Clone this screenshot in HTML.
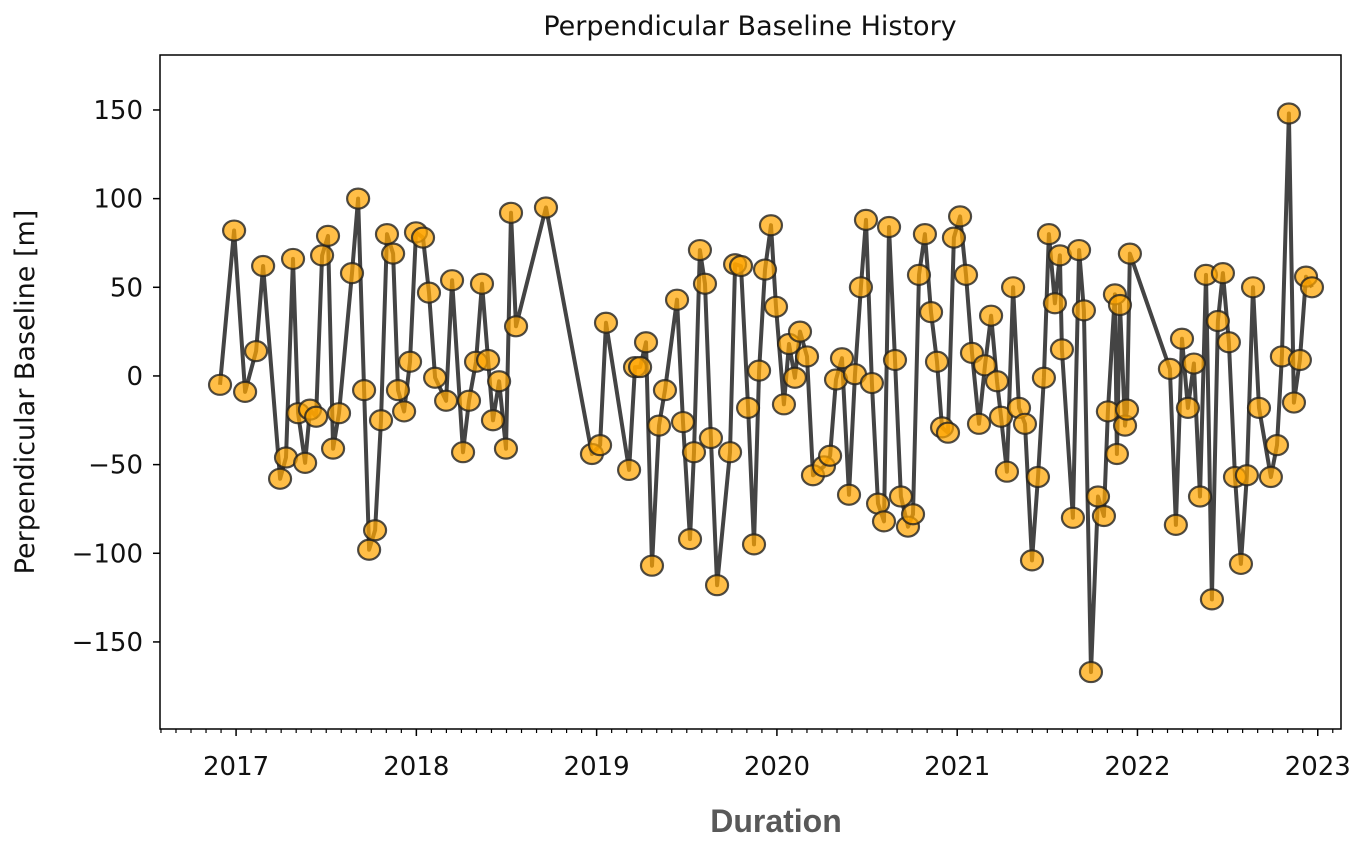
<!DOCTYPE html>
<html><head><meta charset="utf-8"><style>
html,body{margin:0;padding:0;background:#fff;}
svg{display:block;}
text{font-family:"DejaVu Sans","Liberation Sans",sans-serif;fill:#111;}
</style></head><body>
<svg id="chart" width="1358" height="842" viewBox="0 0 1358 842" xmlns="http://www.w3.org/2000/svg">
<text x="750" y="35" text-anchor="middle" font-size="27">Perpendicular Baseline History</text>
<g id="plot"></g>
<text transform="translate(34,392) rotate(-90)" text-anchor="middle" font-size="27">Perpendicular Baseline [m]</text>
<text x="776" y="832" text-anchor="middle" font-size="32" font-weight="bold" style="font-family:'Liberation Sans',sans-serif;fill:#595959">Duration</text>
</svg>
<script>
const dates=[2016.911,2016.989,2017.050,2017.111,2017.150,2017.244,2017.277,2017.316,2017.344,2017.383,2017.410,2017.444,2017.477,2017.510,2017.538,2017.571,2017.643,2017.677,2017.710,2017.738,2017.771,2017.804,2017.837,2017.871,2017.898,2017.932,2017.965,2017.998,2018.037,2018.070,2018.104,2018.165,2018.198,2018.259,2018.292,2018.331,2018.364,2018.398,2018.425,2018.459,2018.497,2018.525,2018.553,2018.719,2018.974,2019.019,2019.052,2019.180,2019.213,2019.241,2019.274,2019.307,2019.346,2019.379,2019.446,2019.479,2019.518,2019.540,2019.573,2019.601,2019.634,2019.668,2019.740,2019.768,2019.801,2019.840,2019.873,2019.901,2019.934,2019.967,2019.995,2020.039,2020.067,2020.100,2020.128,2020.167,2020.200,2020.261,2020.295,2020.328,2020.361,2020.400,2020.433,2020.466,2020.494,2020.527,2020.561,2020.594,2020.622,2020.655,2020.688,2020.727,2020.755,2020.788,2020.821,2020.855,2020.888,2020.916,2020.949,2020.982,2021.016,2021.049,2021.082,2021.121,2021.154,2021.188,2021.221,2021.243,2021.276,2021.310,2021.343,2021.376,2021.415,2021.448,2021.481,2021.509,2021.542,2021.570,2021.581,2021.642,2021.676,2021.703,2021.742,2021.781,2021.814,2021.836,2021.875,2021.886,2021.903,2021.931,2021.942,2021.958,2022.180,2022.213,2022.247,2022.280,2022.313,2022.347,2022.380,2022.413,2022.446,2022.474,2022.507,2022.541,2022.574,2022.607,2022.641,2022.674,2022.740,2022.774,2022.801,2022.840,2022.868,2022.901,2022.935,2022.968];
const baselines=[-5,82,-9,14,62,-58,-46,66,-21,-49,-19,-23,68,79,-41,-21,58,100,-8,-98,-87,-25,80,69,-8,-20,8,81,78,47,-1,-14,54,-43,-14,8,52,9,-25,-3,-41,92,28,95,-44,-39,30,-53,5,5,19,-107,-28,-8,43,-26,-92,-43,71,52,-35,-118,-43,63,62,-18,-95,3,60,85,39,-16,18,-1,25,11,-56,-51,-45,-2,10,-67,1,50,88,-4,-72,-82,84,9,-68,-85,-78,57,80,36,8,-29,-32,78,90,57,13,-27,6,34,-3,-23,-54,50,-18,-27,-104,-57,-1,80,41,68,15,-80,71,37,-167,-68,-79,-20,46,-44,40,-28,-19,69,4,-84,21,-18,7,-68,57,-126,31,58,19,-57,-106,-56,50,-18,-57,-39,11,148,-15,9,56,50];
const yTicks=[-150,-100,-50,0,50,100,150];
const xTicks=[2017,2018,2019,2020,2021,2022,2023];

const L=160,R=1341,T=55,B=729;
const xMin=2016.578,xMax=2023.129,yMin=-199.1,yMax=181;
const xs=v=>L+(v-xMin)/(xMax-xMin)*(R-L);
const ys=v=>B-(v-yMin)/(yMax-yMin)*(B-T);
const NS="http://www.w3.org/2000/svg";
const g=document.getElementById('plot');
function mk(tag,attrs,parent){const e=document.createElementNS(NS,tag);for(const k in attrs)e.setAttribute(k,attrs[k]);(parent||g).appendChild(e);return e;}

let d=dates.map((t,i)=>(i?'L':'M')+xs(t).toFixed(1)+','+ys(baselines[i]).toFixed(1)).join('');
const line=mk('path',{d:d,fill:'none',stroke:'#444','stroke-width':4,'stroke-linejoin':'round'});


dates.forEach((t,i)=>{
  const c=mk('ellipse',{cx:xs(t),cy:ys(baselines[i]),rx:11,ry:10,fill:'rgba(255,165,0,0.72)',stroke:'#222','stroke-opacity':0.8,'stroke-width':2.2});
  
  
});
const fr=mk('rect',{x:L,y:T,width:R-L,height:B-T,fill:'none',stroke:'#000','stroke-width':1.5});


yTicks.forEach(v=>{
  const y=ys(v);
  const tk=mk('line',{x1:L-7,x2:L,y1:y,y2:y,stroke:'#000','stroke-width':1.5});
  
  
  const tx=mk('text',{x:L-17,y:y+9,'text-anchor':'end','font-size':26});
  tx.textContent=v<0?'\u2212'+Math.abs(v):String(v);
  
  
});
for(let yr=2016;yr<=2023;yr++){for(let m=0;m<12;m++){const t=yr+m/12;if(t<xMin||t>xMax||m===0)continue;
  const tk=mk('line',{x1:xs(t),x2:xs(t),y1:B,y2:B+4,stroke:'#000','stroke-width':1.2});
  
  
}}
xTicks.forEach(v=>{
  const x=xs(v);
  const tk=mk('line',{x1:x,x2:x,y1:B,y2:B+7,stroke:'#000','stroke-width':1.5});
  
  
  const tx=mk('text',{x:x,y:B+46,'text-anchor':'middle','font-size':26});
  tx.textContent=String(v);
  
  
});
</script>
</body></html>
